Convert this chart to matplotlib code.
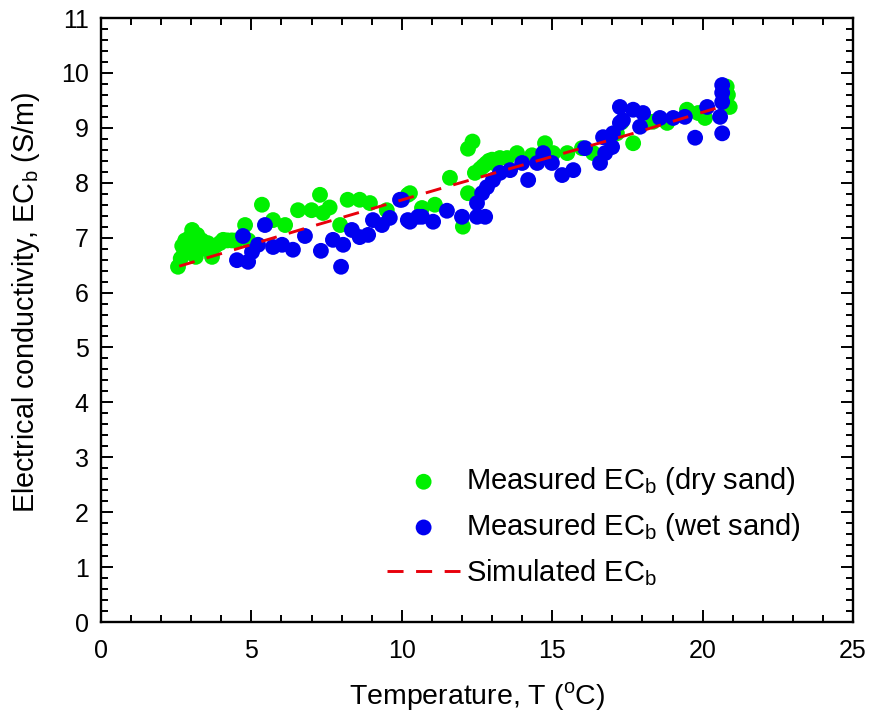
import matplotlib
matplotlib.use("Agg")
import matplotlib.pyplot as plt
from matplotlib.ticker import MultipleLocator

plt.rcParams["font.family"] = ["Liberation Sans", "DejaVu Sans"]
plt.rcParams["mathtext.fontset"] = "custom"
plt.rcParams["mathtext.rm"] = "Liberation Sans"

# measured EC_b, dry sand (T in degC, EC in S/m)
dry_t = [2.56, 2.65, 2.7, 2.75, 2.8, 2.9, 2.95, 3.03, 3.1, 3.15, 3.2, 3.3,
         3.35, 3.45, 3.55, 3.69, 3.8, 3.95, 4.06, 4.2, 4.35, 4.5, 4.79, 4.9,
         5.35, 5.72, 6.12, 6.55, 7.0, 7.28, 7.38, 7.6, 7.95, 8.2, 8.6, 8.94,
         9.5, 10.2, 10.27, 10.67, 11.1, 11.6, 12.03, 12.2, 12.2, 12.35, 12.43,
         12.6, 12.7, 12.8, 12.9, 13.0, 13.1, 13.26, 13.5, 13.83, 14.33, 14.76,
         15.03, 15.5, 15.99, 16.36, 17.15, 17.3, 17.69, 18.35, 18.82, 19.48,
         19.85, 20.08, 20.84, 20.9, 20.8]
dry_ec = [6.47, 6.62, 6.85, 6.7, 6.95, 6.8, 7.0, 7.14, 6.9, 6.65, 7.05, 6.85,
          6.95, 6.8, 6.9, 6.65, 6.85, 6.9, 6.96, 6.95, 6.95, 6.95, 7.23, 6.95,
          7.6, 7.32, 7.23, 7.5, 7.5, 7.78, 7.45, 7.55, 7.23, 7.69, 7.69, 7.63,
          7.5, 7.78, 7.81, 7.54, 7.6, 8.09, 7.2, 7.81, 8.62, 8.75, 8.18,
          8.25, 8.3, 8.35, 8.4, 8.42, 8.35, 8.45, 8.45, 8.54, 8.5, 8.72,
          8.54, 8.54, 8.63, 8.54, 8.9, 9.1, 8.72, 9.11, 9.09, 9.33,
          9.27, 9.18, 9.6, 9.38, 9.75]

# measured EC_b, wet sand
wet_t = [4.52, 4.72, 4.89, 5.02, 5.22, 5.45, 5.72, 6.02, 6.38, 6.78, 7.31,
         7.71, 7.98, 8.05, 8.34, 8.6, 8.88, 9.04, 9.34, 9.6, 9.94, 10.0, 10.2,
         10.27, 10.54, 10.67, 11.04, 11.5, 12.0, 12.5, 12.77, 12.5, 12.67,
         12.83, 13.03, 13.26, 13.6, 14.0, 14.2, 14.5, 14.7, 14.99, 15.33, 15.7,
         16.09, 16.59, 16.76, 16.99, 16.69, 17.02, 17.25, 17.25, 17.35, 17.69,
         18.02, 17.92, 18.58, 19.02, 19.41, 19.75, 20.15, 20.65, 20.65, 20.65,
         20.58, 20.65]
wet_ec = [6.59, 7.03, 6.56, 6.74, 6.87, 7.23, 6.83, 6.87, 6.78, 7.03, 6.76,
          6.96, 6.47, 6.87, 7.14, 7.01, 7.05, 7.32, 7.23, 7.36, 7.69, 7.69, 7.32,
          7.29, 7.38, 7.38, 7.29, 7.49, 7.38, 7.38, 7.38, 7.63, 7.81,
          7.92, 8.05, 8.18, 8.23, 8.36, 8.05, 8.36, 8.54, 8.36, 8.14, 8.23,
          8.63, 8.36, 8.54, 8.65, 8.83, 8.9, 9.09, 9.38, 9.14, 9.33,
          9.27, 9.02, 9.18, 9.18, 9.2, 8.82, 9.38, 9.78, 9.64, 9.47,
          9.2, 8.9]

# simulated EC_b
sim_t = [2.6, 6.85, 11.7, 17.7, 20.7]
sim_ec = [6.48, 7.18, 7.96, 8.9, 9.4]

fig = plt.figure(figsize=(8.7, 7.21), dpi=100)
ax = fig.add_axes([0.1161, 0.1373, 0.8644, 0.8377])

ax.scatter(dry_t, dry_ec, s=130, color="#00f000", edgecolors="none",
           label="Measured EC$_\\mathregular{b}$ (dry sand)", zorder=2)
ax.scatter(wet_t, wet_ec, s=130, color="#0000f0", edgecolors="none",
           label="Measured EC$_\\mathregular{b}$ (wet sand)", zorder=3)
ax.plot(sim_t, sim_ec, color="#e8000b", lw=2.1, dashes=(5.5, 4.3),
        label="Simulated EC$_\\mathregular{b}$", zorder=4)

ax.set_xlim(0, 25)
ax.set_ylim(0, 11)
ax.xaxis.set_major_locator(MultipleLocator(5))
ax.xaxis.set_minor_locator(MultipleLocator(1))
ax.yaxis.set_major_locator(MultipleLocator(1))
ax.yaxis.set_minor_locator(MultipleLocator(0.2))
ax.tick_params(which="both", direction="in", top=True, right=True,
               width=1.4, labelsize=18)
ax.tick_params(axis="x", which="major", pad=12)
ax.tick_params(axis="y", which="major", pad=9)
ax.tick_params(which="major", length=8.5)
ax.tick_params(which="minor", length=5)
for sp in ax.spines.values():
    sp.set_linewidth(1.7)

ax.set_xlabel("Temperature, T ($^\\mathregular{o}$C)", fontsize=20.5, labelpad=13)
ax.set_ylabel("Electrical conductivity, EC$_\\mathregular{b}$ (S/m)", fontsize=20.7)
ax.yaxis.set_label_coords(-0.0785, 0.53)

ax.legend(loc="lower left", bbox_to_anchor=(0.445, 0.185),
          bbox_transform=fig.transFigure, frameon=False, fontsize=21,
          handlelength=2.5, handletextpad=0.2, labelspacing=0.47,
          borderpad=0, borderaxespad=0, scatterpoints=1)

fig.savefig("out.png", dpi=100)
